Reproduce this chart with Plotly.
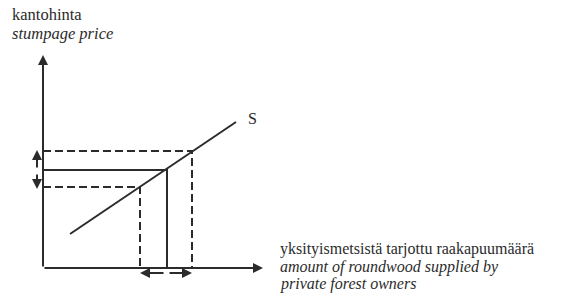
import plotly.graph_objects as go

# Supply curve S (quantity, price) endpoints
supply_q = [27, 193]
supply_p = [34, 146]

# Three equilibrium levels: lower (dashed), middle (solid), upper (dashed)
quantities = [97, 124, 149]
prices = [81, 98, 117]
styles = ["dash", "solid", "dash"]

# Axis extents
x_axis_end = 220
y_axis_end = 213

# Text labels
y_title_fi = "kantohinta"
y_title_en = "stumpage price"
x_title_fi = "yksityismetsistä tarjottu raakapuumäärä"
x_title_en = ["amount of roundwood supplied by", "private forest owners"]
curve_label = "S"

ink = "#2b2b2b"
font = "Liberation Serif, Times New Roman, serif"

fig = go.Figure()

fig.add_trace(go.Scatter(x=supply_q, y=supply_p, mode="lines",
                         line=dict(color=ink, width=2), hoverinfo="skip"))

for q, p, s in zip(quantities, prices, styles):
    dash = "8px,4px" if s == "dash" else "solid"
    fig.add_trace(go.Scatter(x=[0, q, q], y=[p, p, 0], mode="lines",
                             line=dict(color=ink, width=2, dash=dash),
                             hoverinfo="skip"))

ann = []
def arrow(x0, y0, x1, y1, w=2):
    ann.append(dict(x=x1, y=y1, ax=x0, ay=y0, xref="x", yref="y",
                    axref="x", ayref="y", showarrow=True, arrowhead=2,
                    arrowsize=1, arrowwidth=w, arrowcolor=ink, standoff=0,
                    startstandoff=0, text=""))

# axes
arrow(0, 0, 0, y_axis_end)
arrow(0, 0, x_axis_end, 0)
# price change arrows (left of y axis)
mid_p = prices[1]
arrow(-6, mid_p + 1, -6, prices[2] + 1)
arrow(-6, mid_p - 3, -6, prices[0] - 2)
# quantity change arrows (below x axis)
mid_q = quantities[1]
arrow(mid_q - 2, -5, quantities[0] + 0, -5)
arrow(mid_q + 1, -5, quantities[2], -5)

def text(x, y, t, italic=False, size=16):
    ann.append(dict(x=x, y=y, xref="x", yref="y", text=t, showarrow=False,
                    xanchor="left", yanchor="middle",
                    font=dict(family=font, size=size, color=ink,
                              style="italic" if italic else "normal")))

text(-33, 254, y_title_fi, size=16.5)
text(-33, 235, y_title_en, italic=True, size=16.5)
text(235, 19, x_title_fi)
text(235, 1, x_title_en[0], italic=True)
text(235, -16, x_title_en[1], italic=True)
text(203, 150, curve_label)

fig.update_layout(
    width=564, height=299,
    margin=dict(l=0, r=0, t=0, b=0),
    paper_bgcolor="white", plot_bgcolor="white",
    showlegend=False,
    font=dict(family=font),
    annotations=ann,
    xaxis=dict(range=[-43, 521], visible=False, fixedrange=True),
    yaxis=dict(range=[-31, 268], visible=False, fixedrange=True),
)

fig.write_html("out.html", config={"displayModeBar": False},
               post_script="document.body.style.margin='0';document.body.style.overflow='hidden';")
